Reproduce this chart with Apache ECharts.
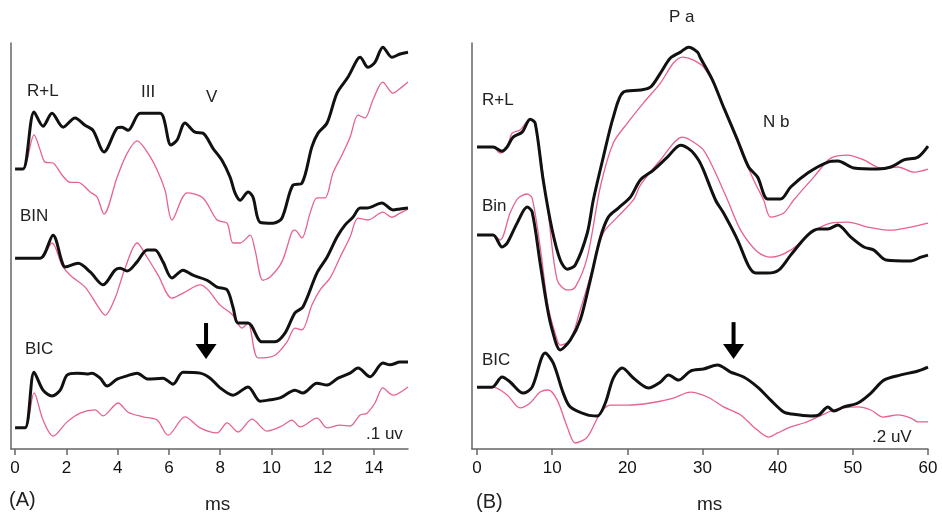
<!DOCTYPE html>
<html>
<head>
<meta charset="utf-8">
<script src="https://cdn.jsdelivr.net/npm/echarts@6.0.0/dist/echarts.min.js"></script>
<style>
  html, body { margin: 0; padding: 0; background: #fff; }
  #chart { width: 942px; height: 515px; }
</style>
</head>
<body>
<div id="chart"></div>
<script>
// (A) brainstem response, ms vs uV (traces offset vertically)
var abrTicks = [0, 2, 4, 6, 8, 10, 12, 14];

var abrRLBlack = [[0,0.609],[0.31,0.609],[0.74,0.733],[1.09,0.702],[1.44,0.730],[1.87,0.700],[2.34,0.720],[2.73,0.704],[3.04,0.693],[3.47,0.646],[3.98,0.698],[4.17,0.700],[4.41,0.693],[4.88,0.730],[5.66,0.730],[6.08,0.661],[6.32,0.672],[6.63,0.709],[7.02,0.689],[7.33,0.687],[7.72,0.654],[8.07,0.628],[8.39,0.591],[8.58,0.557],[8.78,0.541],[9.09,0.559],[9.28,0.548],[9.56,0.493],[10.06,0.491],[10.41,0.502],[10.84,0.574],[11.19,0.578],[11.58,0.657],[11.82,0.687],[12.17,0.709],[12.56,0.774],[12.99,0.809],[13.34,0.846],[13.46,0.852],[13.77,0.830],[14.04,0.841],[14.35,0.874],[14.70,0.852],[15.02,0.859],[15.33,0.863]];
var abrRLPink = [[0,0.609],[0.31,0.609],[0.74,0.683],[0.98,0.650],[1.17,0.624],[1.48,0.622],[1.83,0.596],[2.15,0.580],[2.46,0.580],[2.93,0.559],[3.20,0.548],[3.47,0.511],[3.98,0.591],[4.37,0.643],[4.76,0.670],[5.15,0.646],[5.54,0.607],[5.85,0.563],[6.12,0.498],[6.71,0.557],[7.33,0.546],[7.88,0.498],[8.27,0.491],[8.50,0.448],[8.78,0.448],[9.17,0.465],[9.36,0.433],[9.67,0.367],[9.95,0.374],[10.41,0.407],[10.80,0.472],[10.92,0.476],[11.19,0.459],[11.51,0.513],[11.78,0.546],[12.09,0.546],[12.40,0.600],[12.75,0.639],[13.07,0.678],[13.38,0.726],[13.65,0.720],[13.96,0.759],[14.35,0.798],[14.74,0.774],[15.09,0.787],[15.33,0.798]];
var abrBinBlack = [[0,0.415],[0.98,0.415],[1.48,0.465],[1.83,0.407],[1.95,0.396],[2.46,0.404],[2.93,0.385],[3.43,0.357],[3.90,0.389],[4.10,0.393],[4.37,0.387],[4.76,0.407],[5.15,0.433],[5.46,0.433],[5.77,0.407],[6.12,0.372],[6.55,0.389],[6.94,0.378],[7.49,0.367],[7.88,0.352],[8.27,0.346],[8.50,0.309],[8.70,0.274],[9.09,0.274],[9.63,0.233],[10.14,0.233],[10.53,0.252],[10.92,0.296],[11.23,0.309],[11.78,0.383],[12.17,0.417],[12.56,0.461],[12.87,0.487],[13.18,0.504],[13.46,0.524],[13.73,0.524],[14.31,0.535],[14.74,0.520],[15.02,0.522],[15.33,0.524]];
var abrBinPink = [[0,0.415],[0.98,0.415],[1.44,0.448],[1.83,0.400],[2.15,0.378],[2.73,0.352],[3.20,0.313],[3.51,0.291],[3.90,0.328],[4.29,0.393],[4.76,0.448],[5.15,0.417],[5.58,0.378],[6.12,0.328],[6.55,0.339],[7.22,0.357],[7.53,0.346],[8.00,0.313],[8.50,0.291],[8.85,0.263],[9.09,0.274],[9.48,0.198],[10.14,0.204],[10.61,0.233],[10.92,0.263],[11.19,0.259],[11.58,0.313],[11.90,0.346],[12.29,0.372],[12.68,0.417],[13.07,0.461],[13.38,0.502],[13.77,0.498],[14.35,0.515],[14.70,0.504],[15.02,0.513],[15.33,0.522]];
var abrBicBlack = [[0,0.046],[0.39,0.046],[0.74,0.167],[1.09,0.128],[1.44,0.115],[1.76,0.128],[2.03,0.161],[2.42,0.165],[2.81,0.163],[3.00,0.165],[3.32,0.154],[3.59,0.137],[3.98,0.152],[4.37,0.159],[4.76,0.165],[5.19,0.152],[5.77,0.154],[6.16,0.141],[6.55,0.167],[7.22,0.165],[7.61,0.154],[8.00,0.133],[8.50,0.117],[9.09,0.135],[9.56,0.104],[9.95,0.107],[10.34,0.111],[10.92,0.128],[11.23,0.122],[11.78,0.143],[12.17,0.139],[12.60,0.154],[13.07,0.165],[13.38,0.176],[13.85,0.157],[14.35,0.187],[14.63,0.183],[15.02,0.189],[15.33,0.189]];
var abrBicPink = [[0,0.046],[0.39,0.046],[0.74,0.122],[1.09,0.063],[1.48,0.028],[2.03,0.059],[2.54,0.078],[3.12,0.085],[3.43,0.072],[4.02,0.100],[4.41,0.080],[4.99,0.070],[5.54,0.063],[5.97,0.030],[6.63,0.070],[7.22,0.046],[7.88,0.035],[8.27,0.057],[8.70,0.037],[9.24,0.065],[9.83,0.039],[10.41,0.050],[10.80,0.063],[11.12,0.048],[11.78,0.067],[12.17,0.046],[12.68,0.052],[13.07,0.050],[13.46,0.074],[13.73,0.078],[14.04,0.100],[14.35,0.133],[14.74,0.117],[15.33,0.135]];
var abrScaleBar = [[15.8, 0.013], [15.8, 0.113]];   // .1 uv
var abrArrow = [[7.45, 0.274], [7.45, 0.212]];

// (B) middle latency response
var mlrTicks = [0, 10, 20, 30, 40, 50, 60];

var mlrRLBlack = [[0,1.162],[2.13,1.162],[3.33,1.146],[4.0,1.162],[4.8,1.200],[6.0,1.219],[7.07,1.269],[7.73,1.254],[8.8,1.035],[10.0,0.842],[11.07,0.727],[12.0,0.692],[13.07,0.708],[14.67,0.831],[15.47,0.958],[16.8,1.123],[18.13,1.277],[19.47,1.373],[21.73,1.381],[23.07,1.392],[24.4,1.446],[25.73,1.504],[27.07,1.527],[28.13,1.546],[29.33,1.527],[29.73,1.504],[31.33,1.419],[32.8,1.315],[34.67,1.188],[36.13,1.085],[37.33,1.046],[38.67,0.962],[40.4,0.962],[41.73,1.008],[44.0,1.062],[46.67,1.104],[48.0,1.108],[50.13,1.081],[53.33,1.077],[55.07,1.085],[56.8,1.112],[58.67,1.123],[60,1.165]];
var mlrRLPink = [[0,1.162],[2.13,1.162],[3.07,1.138],[4.0,1.162],[4.67,1.215],[5.73,1.227],[7.07,1.269],[7.73,1.254],[9.47,0.908],[10.67,0.650],[12.0,0.612],[13.07,0.623],[14.67,0.738],[16.4,1.008],[18.13,1.177],[20.0,1.254],[22.13,1.331],[24.4,1.408],[26.13,1.485],[27.33,1.508],[28.8,1.496],[30.13,1.469],[31.73,1.392],[33.33,1.277],[35.07,1.150],[36.8,1.035],[38.13,0.958],[39.07,0.892],[40.8,0.908],[42.13,0.958],[44.8,1.046],[47.07,1.119],[49.33,1.131],[51.47,1.112],[53.73,1.081],[56.0,1.085],[58.13,1.065],[60,1.077]];
var mlrBinBlack = [[0,0.823],[2.13,0.823],[3.33,0.777],[4.0,0.792],[5.33,0.869],[6.67,0.931],[7.33,0.912],[8.4,0.715],[9.33,0.546],[10.0,0.458],[11.07,0.381],[12.4,0.419],[13.73,0.496],[15.07,0.650],[16.4,0.812],[17.47,0.892],[18.8,0.927],[20.4,0.969],[21.73,1.035],[23.47,1.073],[25.33,1.123],[27.07,1.169],[28.4,1.150],[29.47,1.112],[30.13,1.073],[31.73,0.958],[32.8,0.908],[34.67,0.804],[36.13,0.704],[37.07,0.677],[38.67,0.677],[40.13,0.688],[41.73,0.746],[44.0,0.823],[45.47,0.846],[46.67,0.846],[48.0,0.862],[49.73,0.815],[51.47,0.777],[52.8,0.765],[54.4,0.727],[57.73,0.723],[59.07,0.738],[60,0.746]];
var mlrBinPink = [[0,0.823],[2.13,0.823],[3.07,0.804],[4.4,0.908],[5.47,0.965],[6.67,0.981],[7.33,0.965],[8.4,0.777],[9.47,0.546],[10.67,0.419],[11.07,0.400],[12.4,0.419],[13.73,0.535],[15.33,0.688],[16.8,0.831],[18.67,0.892],[20.8,0.958],[21.73,1.015],[24.4,1.112],[27.33,1.200],[28.4,1.188],[30.13,1.150],[31.73,1.062],[33.33,0.958],[35.07,0.842],[37.33,0.758],[39.07,0.738],[41.73,0.765],[44.4,0.831],[47.07,0.869],[49.33,0.873],[52.0,0.854],[55.07,0.842],[57.73,0.854],[60,0.869]];
var mlrBicBlack = [[0,0.238],[2.0,0.238],[3.33,0.277],[4.4,0.258],[6.13,0.215],[7.33,0.238],[9.07,0.369],[10.13,0.331],[11.47,0.215],[12.4,0.162],[14.67,0.131],[16.0,0.127],[17.07,0.177],[18.13,0.273],[19.33,0.312],[20.8,0.273],[22.8,0.235],[24.4,0.258],[25.47,0.285],[26.8,0.265],[28.4,0.300],[30.13,0.308],[32.0,0.323],[33.73,0.296],[35.47,0.277],[37.33,0.238],[39.07,0.188],[40.8,0.142],[41.73,0.135],[44.4,0.127],[45.47,0.131],[46.67,0.162],[47.47,0.146],[48.8,0.162],[50.67,0.177],[52.4,0.215],[54.13,0.265],[56.4,0.285],[58.67,0.300],[60,0.315]];
var mlrBicPink = [[0,0.238],[2.13,0.238],[4.0,0.208],[5.73,0.158],[7.07,0.177],[8.4,0.219],[9.47,0.227],[10.67,0.188],[12.0,0.085],[13.07,0.023],[14.67,0.046],[16.4,0.138],[17.73,0.169],[20.0,0.169],[23.07,0.177],[26.13,0.196],[28.4,0.219],[30.67,0.200],[32.8,0.162],[35.07,0.131],[36.8,0.085],[38.8,0.046],[40.0,0.062],[41.73,0.085],[43.47,0.100],[45.33,0.123],[47.07,0.146],[48.8,0.158],[50.67,0.162],[52.4,0.150],[54.0,0.123],[56.0,0.131],[57.73,0.119],[58.67,0.104],[60,0.104]];
var mlrScaleBar = [[61.87, 0.046], [61.87, 0.246]];  // .2 uV
var mlrArrow = [[34.13, 0.488], [34.13, 0.375]];

var BLACK = '#111';
var PINK = '#e8628e';
var AXIS = '#666';
var FONT = 'Liberation Sans, Arial, sans-serif';

var myChart = echarts.init(document.getElementById('chart'));

function trace(data, idx, color, width) {
    return {
        type: 'line',
        xAxisIndex: idx,
        yAxisIndex: idx,
        data: data,
        symbol: 'none',
        smooth: 0.3,
        silent: true,
        lineStyle: { color: color, width: width }
    };
}

function scaleBar(data, idx) {
    return {
        type: 'line',
        xAxisIndex: idx,
        yAxisIndex: idx,
        data: data,
        symbol: 'none',
        clip: false,
        silent: true,
        lineStyle: { color: AXIS, width: 1.5 }
    };
}

function arrow(data, idx) {
    return {
        type: 'line',
        xAxisIndex: idx,
        yAxisIndex: idx,
        data: [data[0], { value: data[1], symbol: 'triangle', symbolSize: [21, 15], symbolRotate: 180 }],
        symbol: 'none',
        showSymbol: true,
        silent: true,
        lineStyle: { color: '#000', width: 4 },
        itemStyle: { color: '#000' }
    };
}

function xAxis(idx, min, max, ticks) {
    return {
        type: 'value',
        gridIndex: idx,
        min: min,
        max: max,
        axisLine: { show: true, onZero: false, lineStyle: { color: AXIS, width: 1.5 } },
        axisTick: { show: true, customValues: ticks, length: 6, lineStyle: { color: AXIS, width: 1.5 } },
        axisLabel: { customValues: ticks, fontSize: 17, fontFamily: FONT, color: '#111', margin: 11 },
        splitLine: { show: false }
    };
}

function yAxis(idx, max) {
    return {
        type: 'value',
        gridIndex: idx,
        min: 0,
        max: max,
        axisLine: { show: true, onZero: false, lineStyle: { color: AXIS, width: 1.5 } },
        axisTick: { show: false },
        axisLabel: { show: false },
        splitLine: { show: false }
    };
}

function label(text, x, y, size) {
    return {
        type: 'text',
        x: x,
        y: y,
        silent: true,
        style: { text: text, fill: '#222', font: (size || 17) + 'px ' + FONT, verticalAlign: 'middle' }
    };
}

myChart.setOption({
    animation: false,
    backgroundColor: '#fff',
    grid: [
        { left: 11, top: 43, width: 397, height: 406 },
        { left: 472, top: 43, width: 456, height: 406 }
    ],
    xAxis: [xAxis(0, -0.16, 15.33, abrTicks), xAxis(1, -0.67, 60, mlrTicks)],
    yAxis: [yAxis(0, 0.883), yAxis(1, 1.562)],
    graphic: [
        label('R+L', 27, 91), label('III', 141, 92), label('V', 206, 97),
        label('BIN', 20, 216), label('BIC', 25, 349),
        label('.1 uv', 366, 434), label('(A)', 9, 500, 20), label('ms', 205, 505, 19),
        label('P a', 669, 17), label('R+L', 482, 100), label('N b', 763, 122),
        label('Bin', 482, 206), label('BIC', 482, 360),
        label('.2 uV', 872, 437), label('(B)', 476, 502, 20), label('ms', 697, 505, 19)
    ],
    series: [
        trace(abrRLPink, 0, PINK, 1.3), trace(abrRLBlack, 0, BLACK, 3),
        trace(abrBinPink, 0, PINK, 1.3), trace(abrBinBlack, 0, BLACK, 3),
        trace(abrBicPink, 0, PINK, 1.3), trace(abrBicBlack, 0, BLACK, 3),
        scaleBar(abrScaleBar, 0), arrow(abrArrow, 0),
        trace(mlrRLPink, 1, PINK, 1.3), trace(mlrRLBlack, 1, BLACK, 3),
        trace(mlrBinPink, 1, PINK, 1.3), trace(mlrBinBlack, 1, BLACK, 3),
        trace(mlrBicPink, 1, PINK, 1.3), trace(mlrBicBlack, 1, BLACK, 3),
        scaleBar(mlrScaleBar, 1), arrow(mlrArrow, 1)
    ]
});
</script>
</body>
</html>
